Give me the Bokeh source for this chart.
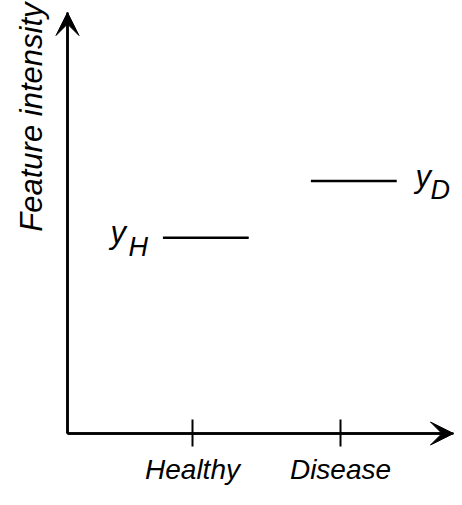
import math
from bokeh.plotting import figure
from bokeh.models import Arrow, VeeHead, FixedTicker, Label, ColumnDataSource, Range1d
from bokeh.embed import file_html
from bokeh.resources import INLINE
from bokeh.core.properties import value

# ---- data ----
categories = ["Healthy", "Disease"]
positions = [1, 2]
means = [4.65, 6.0]
mean_symbols = ["y", "y"]
mean_subscripts = ["H", "D"]
y_label = "Feature intensity"

# ---- layout / style ----
FONT = "Liberation Sans"
X0, X_TIP = 0.1554, 2.7635        # axis origin / arrow tip along x
Y0, Y_TIP = 0.0, 10.0             # axis origin / arrow tip along y
X_RANGE = (-0.2973, 2.7703)
Y_RANGE = (-1.330, 10.285)
SEG_OFFSET, SEG_HALF = 0.09, 0.29

p = figure(width=454, height=489, output_backend="svg", toolbar_location=None,
           title=None, x_range=Range1d(*X_RANGE), y_range=Range1d(*Y_RANGE),
           min_border=0, min_border_left=0, min_border_right=0,
           min_border_top=0, min_border_bottom=0,
           background_fill_color="white", border_fill_color="white")
p.outline_line_color = None
p.xgrid.visible = False
p.ygrid.visible = False

# x axis (inside the frame, at y = Y0)
xa = p.xaxis[0]
xa.fixed_location = Y0
xa.bounds = (X0, X_TIP)
xa.ticker = FixedTicker(ticks=positions)
xa.major_label_overrides = {pos: cat for pos, cat in zip(positions, categories)}
xa.minor_tick_line_color = None
xa.major_tick_in = 14
xa.major_tick_out = 13
xa.major_tick_line_width = 2
xa.major_tick_line_color = "black"
xa.axis_line_width = 2.5
xa.axis_line_color = "black"
xa.major_label_text_font = FONT
xa.major_label_text_font_style = "italic"
xa.major_label_text_font_size = "28px"
xa.major_label_text_color = "black"
xa.major_label_standoff = 7

# y axis (inside the frame, at x = X0)
ya = p.yaxis[0]
ya.fixed_location = X0
ya.bounds = (Y0, Y_TIP)
ya.ticker = FixedTicker(ticks=[])
ya.minor_tick_line_color = None
ya.major_tick_line_color = None
ya.axis_line_width = 2.5
ya.axis_line_color = "black"

# arrow heads on the axes
head = dict(size=23, fill_color="black", line_color="black", line_width=1)
p.add_layout(Arrow(end=VeeHead(**head), x_start=X0, y_start=Y0,
                   x_end=X0, y_end=Y_TIP, line_width=2.5, line_color="black"))
p.add_layout(Arrow(end=VeeHead(**head), x_start=X0, y_start=Y0,
                   x_end=X_TIP, y_end=Y0, line_width=2.5, line_color="black"))

# y axis title
p.add_layout(Label(x=X0, y=Y_TIP, text=y_label, angle=math.pi / 2,
                   text_align="right", text_baseline="bottom",
                   x_offset=-18, y_offset=10, text_font=FONT,
                   text_font_style="italic", text_font_size="31px",
                   text_color="black"))

# mean segments
src = ColumnDataSource(dict(
    x0=[x + SEG_OFFSET - SEG_HALF for x in positions],
    x1=[x + SEG_OFFSET + SEG_HALF for x in positions],
    y=means, x=positions, sym=mean_symbols, sub=mean_subscripts,
    sym_dx=[-82, 75], sym_dy=[-5, -4], sub_dx=[-64, 90], sub_dy=[9, 9]))
p.segment(x0="x0", y0="y", x1="x1", y1="y", source=src,
          line_color="black", line_width=2.5)

p.text(x="x", y="y", text="sym", x_offset="sym_dx", y_offset="sym_dy",
       source=src, text_font=value(FONT), text_font_style="italic",
       text_font_size="31px", text_align="left", text_baseline="alphabetic",
       text_color="black")
p.text(x="x", y="y", text="sub", x_offset="sub_dx", y_offset="sub_dy",
       source=src, text_font=value(FONT), text_font_style="italic",
       text_font_size="27px", text_align="left", text_baseline="alphabetic",
       text_color="black")

open("out.html", "w").write(file_html(p, INLINE))
